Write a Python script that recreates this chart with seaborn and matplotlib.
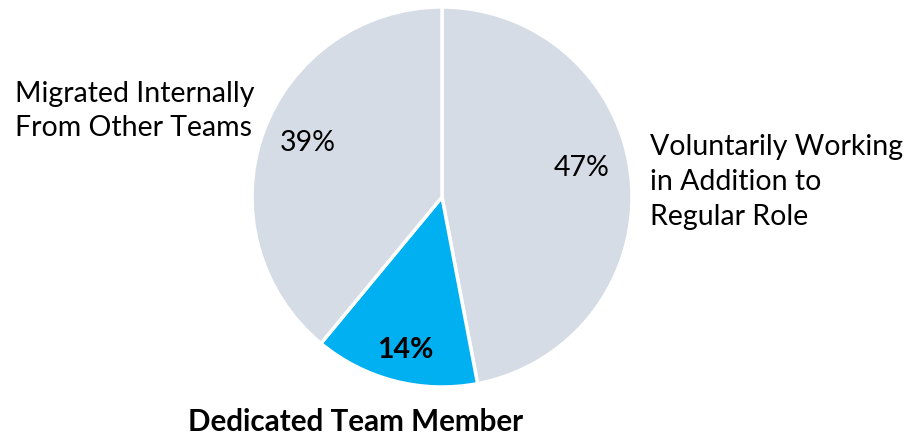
import matplotlib
matplotlib.use("Agg")
import matplotlib.pyplot as plt
import seaborn as sns

sns.set_theme(style="white")
plt.rcParams['font.family'] = ['Lato', 'DejaVu Sans']
plt.rcParams['text.color'] = 'black'

categories = ["Voluntarily Working\nin Addition to\nRegular Role",
              "Dedicated Team Member",
              "Migrated Internally\nFrom Other Teams"]
shares = [47, 14, 39]
pct_labels = ["47%", "14%", "39%"]
colors = ["#D6DCE5", "#00B0F0", "#D6DCE5"]

fig = plt.figure(figsize=(9.24, 4.35), dpi=100)
ax = fig.add_axes([252 / 924, 47 / 435, 380 / 924, 380 / 435])

ax.pie(shares, colors=colors, startangle=90, counterclock=False,
       wedgeprops=dict(edgecolor="white", linewidth=2.5))
ax.set_xlim(-1, 1)
ax.set_ylim(-1, 1)
ax.set_aspect("equal")
ax.axis("off")

# helper: pixel coords (from top-left of figure) -> pie data coords
def pos(px, py):
    return (px - 442) / 190, (198 - py) / 190

fs = 20.5
ax.text(*pos(582, 168), pct_labels[0], ha="center", va="center", fontsize=fs)
ax.text(*pos(405, 350), pct_labels[1], ha="center", va="center", fontsize=fs, fontweight="bold")
ax.text(*pos(308, 143), pct_labels[2], ha="center", va="center", fontsize=fs)

ax.text(*pos(650, 182), categories[0], ha="left", va="center", fontsize=fs,
        linespacing=1.42, clip_on=False)
ax.text(*pos(356, 422), categories[1], ha="center", va="center", fontsize=21.3,
        fontweight="bold", clip_on=False)
ax.text(*pos(15, 111), categories[2], ha="left", va="center", fontsize=fs,
        linespacing=1.42, clip_on=False)

fig.savefig("out.png", dpi=100, facecolor="white")
